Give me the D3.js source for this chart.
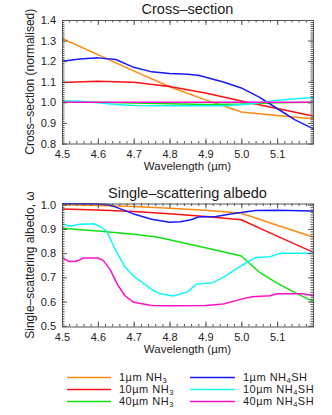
<!DOCTYPE html>
<html>
<head>
<meta charset="utf-8">
<script src="https://cdn.jsdelivr.net/npm/d3@7"></script>
<style>
  body { margin: 0; background: #fff; }
  svg { display: block; font-family: "Liberation Sans", Arial, Helvetica, sans-serif; }
</style>
</head>
<body>
<svg id="chart" width="332" height="415"></svg>
<script>
// tick labels
const wlTicks = [4.5, 4.6, 4.7, 4.8, 4.9, 5.0, 5.1];
const csTicks = [0.8, 0.9, 1.0, 1.1, 1.2, 1.3, 1.4];
const ssaTicks = [0.5, 0.6, 0.7, 0.8, 0.9, 1.0];

// series order: 1um NH3, 10um NH3, 40um NH3, 1um NH4SH, 10um NH4SH, 40um NH4SH
const seriesSize = ["1µm", "10µm", "40µm", "1µm", "10µm", "40µm"];
const seriesSpecies = ["NH3", "NH3", "NH3", "NH4SH", "NH4SH", "NH4SH"];
const seriesColor = ["#ff8a12", "#ff1010", "#10e010", "#1818ff", "#10f8f8", "#ff10c8"];

// cross-section (normalised), [wavelength, value]
const cs1NH3 = [[4.5,1.31],[4.6,1.232],[4.7,1.153],[4.8,1.076],[4.9,1.012],[4.95,0.983],[5.0,0.953],[5.1,0.936],[5.2,0.92]];
const cs10NH3 = [[4.5,1.096],[4.6,1.102],[4.7,1.098],[4.8,1.077],[4.9,1.045],[5.0,1.006],[5.1,0.97],[5.2,0.934]];
const cs40NH3 = [[4.5,1.0],[4.6,1.0],[4.7,0.997],[4.8,0.993],[4.9,0.99],[5.0,0.992],[5.1,0.998],[5.2,1.0]];
const cs1NH4SH = [[4.5,1.2],[4.55,1.21],[4.6,1.216],[4.65,1.208],[4.7,1.17],[4.75,1.148],[4.8,1.14],[4.85,1.137],[4.88,1.132],[4.95,1.099],[5.0,1.07],[5.05,1.025],[5.1,0.97],[5.15,0.915],[5.2,0.872]];
const cs10NH4SH = [[4.5,1.008],[4.55,1.005],[4.6,0.998],[4.65,0.99],[4.7,0.985],[4.8,0.984],[4.9,0.983],[4.95,0.983],[5.0,0.988],[5.05,0.998],[5.1,1.01],[5.2,1.024]];
const cs40NH4SH = [[4.5,1.0],[4.7,1.0],[4.9,1.0],[5.0,1.0],[5.2,1.0]];

// single-scattering albedo, [wavelength, value]
const ssa1NH3 = [[4.5,1.0],[4.6,0.997],[4.7,0.993],[4.8,0.985],[4.9,0.977],[5.0,0.965],[5.1,0.915],[5.2,0.867]];
const ssa10NH3 = [[4.5,0.982],[4.6,0.978],[4.7,0.972],[4.8,0.963],[4.9,0.951],[5.0,0.938],[5.1,0.87],[5.2,0.804]];
const ssa40NH3 = [[4.5,0.903],[4.6,0.891],[4.7,0.878],[4.76,0.868],[4.8,0.855],[4.9,0.822],[5.0,0.788],[5.05,0.722],[5.1,0.676],[5.15,0.637],[5.2,0.601]];
const ssa1NH4SH = [[4.5,1.004],[4.55,1.004],[4.6,1.003],[4.63,1.0],[4.65,0.99],[4.7,0.962],[4.75,0.94],[4.8,0.928],[4.83,0.93],[4.86,0.938],[4.88,0.949],[4.93,0.951],[4.97,0.962],[5.0,0.968],[5.04,0.976],[5.1,0.977],[5.2,0.974]];
const ssa10NH4SH = [[4.5,0.922],[4.52,0.911],[4.55,0.919],[4.59,0.921],[4.61,0.907],[4.625,0.89],[4.65,0.81],[4.675,0.745],[4.7,0.705],[4.75,0.65],[4.775,0.632],[4.81,0.623],[4.85,0.64],[4.875,0.672],[4.92,0.678],[4.95,0.7],[5.0,0.748],[5.04,0.782],[5.08,0.785],[5.11,0.8],[5.2,0.8]];
const ssa40NH4SH = [[4.5,0.782],[4.52,0.765],[4.54,0.766],[4.56,0.78],[4.6,0.78],[4.615,0.77],[4.635,0.73],[4.655,0.67],[4.675,0.625],[4.7,0.597],[4.75,0.584],[4.8,0.583],[4.9,0.584],[4.95,0.59],[5.0,0.61],[5.03,0.62],[5.08,0.624],[5.1,0.632],[5.17,0.632],[5.2,0.625]];

const svg = d3.select("#chart");
const ink = "#222";
const axisInk = "#555";

const x = d3.scaleLinear().domain([4.5, 5.2]).range([62, 313]);

const panels = [
  {
    title: "Cross–section",
    ylabel: "Cross–section (normalised)",
    y: d3.scaleLinear().domain([0.8, 1.4]).range([143.5, 20]),
    yTicks: csTicks,
    series: [cs1NH3, cs10NH3, cs40NH3, cs1NH4SH, cs10NH4SH, cs40NH4SH],
  },
  {
    title: "Single–scattering albedo",
    ylabel: "Single–scattering albedo, ω",
    y: d3.scaleLinear().domain([0.497, 1.005]).range([326.5, 203.5]),
    yTicks: ssaTicks,
    series: [ssa1NH3, ssa10NH3, ssa40NH3, ssa1NH4SH, ssa10NH4SH, ssa40NH4SH],
  },
];

const xMinor = d3.range(4.5, 5.2001, 0.02).map((d) => +d.toFixed(2));

panels.forEach((p) => {
  const y = p.y;
  const [y0, y1] = y.range();
  const g = svg.append("g");
  const yMinor = d3.range(Math.ceil(y.domain()[0] * 100), Math.floor(y.domain()[1] * 100) + 1).map((d) => d / 100);

  // lines
  const line = d3.line().x((d) => x(d[0])).y((d) => y(d[1]));
  g.append("g")
    .selectAll("path")
    .data(p.series)
    .join("path")
    .attr("fill", "none")
    .attr("stroke", (d, i) => seriesColor[i])
    .attr("stroke-width", 1.5)
    .attr("stroke-linejoin", "round")
    .attr("d", line);

  // axes with inward ticks
  const axes = [
    { ax: d3.axisBottom(x).tickValues(wlTicks).tickFormat(d3.format(".1f")).tickSizeInner(-5).tickPadding(7), t: `translate(0,${y0})` },
    { ax: d3.axisBottom(x).tickValues(xMinor).tickFormat("").tickSizeInner(-2.5), t: `translate(0,${y0})` },
    { ax: d3.axisTop(x).tickValues(wlTicks).tickFormat("").tickSizeInner(-5), t: `translate(0,${y1})` },
    { ax: d3.axisTop(x).tickValues(xMinor).tickFormat("").tickSizeInner(-2.5), t: `translate(0,${y1})` },
    { ax: d3.axisLeft(y).tickValues(p.yTicks).tickFormat(d3.format(".1f")).tickSizeInner(-5).tickPadding(6), t: `translate(${x.range()[0]},0)` },
    { ax: d3.axisLeft(y).tickValues(yMinor).tickFormat("").tickSizeInner(-2.5), t: `translate(${x.range()[0]},0)` },
    { ax: d3.axisRight(y).tickValues(p.yTicks).tickFormat("").tickSizeInner(-5), t: `translate(${x.range()[1]},0)` },
    { ax: d3.axisRight(y).tickValues(yMinor).tickFormat("").tickSizeInner(-2.5), t: `translate(${x.range()[1]},0)` },
  ];
  axes.forEach((a) => {
    const ag = g.append("g").attr("transform", a.t).call(a.ax.tickSizeOuter(0));
    ag.select(".domain").remove();
    ag.selectAll("line").attr("stroke", axisInk);
    ag.selectAll("text").attr("fill", ink).attr("font-size", 11).attr("font-family", null);
  });

  // frame
  g.append("rect")
    .attr("x", x.range()[0] + 0.5)
    .attr("y", y1 + 0.5)
    .attr("width", x.range()[1] - x.range()[0])
    .attr("height", y0 - y1)
    .attr("fill", "none")
    .attr("stroke", axisInk);

  const cx = (x.range()[0] + x.range()[1]) / 2;
  g.append("text")
    .attr("x", cx)
    .attr("y", y1 - 6)
    .attr("text-anchor", "middle")
    .attr("font-size", 14.5)
    .attr("fill", ink)
    .text(p.title);

  g.append("text")
    .attr("x", cx)
    .attr("y", y0 + 26.5)
    .attr("text-anchor", "middle")
    .attr("font-size", 11.5)
    .attr("fill", ink)
    .text("Wavelength (µm)");

  g.append("text")
    .attr("transform", `translate(33.5,${(y0 + y1) / 2}) rotate(-90)`)
    .attr("text-anchor", "middle")
    .attr("font-size", 12)
    .attr("fill", ink)
    .text(p.ylabel);
});

// legend
const legend = svg.append("g");
const legendCols = [{ x1: 67, x2: 111, tx: 119 }, { x1: 190, x2: 235, tx: 243 }];
const legendRows = [377.5, 389.5, 401.5];
seriesColor.forEach((c, i) => {
  const col = legendCols[Math.floor(i / 3)];
  const ry = legendRows[i % 3];
  legend.append("line")
    .attr("x1", col.x1).attr("x2", col.x2)
    .attr("y1", ry).attr("y2", ry)
    .attr("stroke", c).attr("stroke-width", 1.5);
  const t = legend.append("text")
    .attr("x", col.tx).attr("y", ry + 3.5)
    .attr("font-size", 11).attr("letter-spacing", 0.5).attr("fill", ink);
  t.append("tspan").text(seriesSize[i] + " NH");
  const sp = seriesSpecies[i];
  const sub = sp === "NH3" ? "3" : "4";
  t.append("tspan").attr("font-size", 7.5).attr("dy", 2).text(sub);
  if (sp === "NH4SH") t.append("tspan").attr("dy", -2).text("SH");
});
</script>
</body>
</html>
